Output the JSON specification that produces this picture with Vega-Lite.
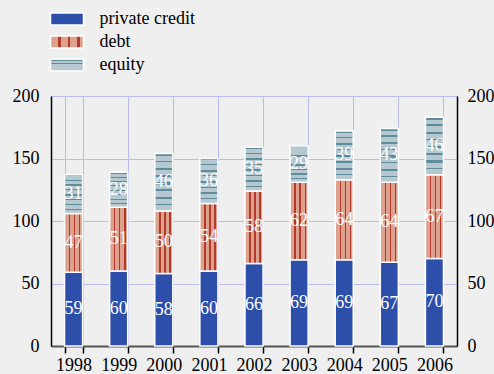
{
  "$schema": "https://vega.github.io/schema/vega-lite/v6.json",
  "width": 406,
  "height": 250,
  "autosize": "none",
  "padding": {"left": 51, "top": 96, "right": 37, "bottom": 28},
  "background": "#efefef",
  "config": {
    "font": "Liberation Serif",
    "view": {"stroke": null},
    "axis": {"labelFont": "Liberation Serif", "labelColor": "#000000", "labelFontSize": 18}
  },
  "data": {
    "values": [
      {"year": "1998", "series": "private credit", "rank": 1, "value": 59},
      {"year": "1998", "series": "debt", "rank": 2, "value": 47},
      {"year": "1998", "series": "equity", "rank": 3, "value": 31},
      {"year": "1999", "series": "private credit", "rank": 1, "value": 60},
      {"year": "1999", "series": "debt", "rank": 2, "value": 51},
      {"year": "1999", "series": "equity", "rank": 3, "value": 28},
      {"year": "2000", "series": "private credit", "rank": 1, "value": 58},
      {"year": "2000", "series": "debt", "rank": 2, "value": 50},
      {"year": "2000", "series": "equity", "rank": 3, "value": 46},
      {"year": "2001", "series": "private credit", "rank": 1, "value": 60},
      {"year": "2001", "series": "debt", "rank": 2, "value": 54},
      {"year": "2001", "series": "equity", "rank": 3, "value": 36},
      {"year": "2002", "series": "private credit", "rank": 1, "value": 66},
      {"year": "2002", "series": "debt", "rank": 2, "value": 58},
      {"year": "2002", "series": "equity", "rank": 3, "value": 35},
      {"year": "2003", "series": "private credit", "rank": 1, "value": 69},
      {"year": "2003", "series": "debt", "rank": 2, "value": 62},
      {"year": "2003", "series": "equity", "rank": 3, "value": 29},
      {"year": "2004", "series": "private credit", "rank": 1, "value": 69},
      {"year": "2004", "series": "debt", "rank": 2, "value": 64},
      {"year": "2004", "series": "equity", "rank": 3, "value": 39},
      {"year": "2005", "series": "private credit", "rank": 1, "value": 67},
      {"year": "2005", "series": "debt", "rank": 2, "value": 64},
      {"year": "2005", "series": "equity", "rank": 3, "value": 43},
      {"year": "2006", "series": "private credit", "rank": 1, "value": 70},
      {"year": "2006", "series": "debt", "rank": 2, "value": 67},
      {"year": "2006", "series": "equity", "rank": 3, "value": 46}
    ]
  },
  "transform": [
    {"stack": "value", "groupby": ["year"], "sort": [{"field": "rank", "order": "ascending"}], "as": ["y0", "y1"]}
  ],
  "layer": [
    {
      "mark": {"type": "bar", "stroke": "#ffffff", "strokeWidth": 1.5},
      "encoding": {
        "x": {
          "field": "year", "type": "ordinal",
          "scale": {"paddingInner": 0.6, "paddingOuter": 0.3},
          "axis": {
            "title": null, "labelAngle": 0, "labelPadding": 3,
            "domainColor": "#555555", "domainWidth": 2,
            "ticks": true, "tickBand": "extent", "tickColor": "#000000", "tickSize": 7, "tickWidth": 1.5,
            "grid": true, "gridColor": "#b9bcee", "gridWidth": 1
          }
        },
        "y": {
          "field": "y0", "type": "quantitative",
          "scale": {"domain": [0, 200]},
          "axis": {
            "title": null, "orient": "left", "values": [0, 50, 100, 150, 200],
            "ticks": false, "labelPadding": 12,
            "domainColor": "#000000", "domainWidth": 1.5,
            "grid": true, "gridColor": "#b9bcee", "gridWidth": 1
          }
        },
        "y2": {"field": "y1"},
        "fill": {
          "field": "series", "type": "nominal",
          "scale": {
            "domain": ["private credit", "debt", "equity"],
            "range": [
              "#2d4fa9",
              {"expr": "{gradient: 'linear', x1: 0, y1: 0, x2: 1, y2: 0, stops: [{offset: 0, color: '#dda18d'}, {offset: 0.24, color: '#dda18d'}, {offset: 0.24, color: '#b23a2c'}, {offset: 0.32, color: '#b23a2c'}, {offset: 0.32, color: '#dda18d'}, {offset: 0.52, color: '#dda18d'}, {offset: 0.52, color: '#b23a2c'}, {offset: 0.6, color: '#b23a2c'}, {offset: 0.6, color: '#dda18d'}, {offset: 0.8, color: '#dda18d'}, {offset: 0.8, color: '#b23a2c'}, {offset: 0.88, color: '#b23a2c'}, {offset: 0.88, color: '#dda18d'}, {offset: 1, color: '#dda18d'}]}"},
              {"expr": "{gradient: 'linear', x1: 0, y1: 0, x2: 0, y2: 1, stops: [{offset: 0, color: '#5e8c9b'}, {offset: 0.04, color: '#5e8c9b'}, {offset: 0.04, color: '#b5c8d0'}, {offset: 0.125, color: '#b5c8d0'}, {offset: 0.125, color: '#5e8c9b'}, {offset: 0.15, color: '#5e8c9b'}, {offset: 0.15, color: '#b5c8d0'}, {offset: 0.25, color: '#b5c8d0'}, {offset: 0.25, color: '#5e8c9b'}, {offset: 0.29, color: '#5e8c9b'}, {offset: 0.29, color: '#b5c8d0'}, {offset: 0.375, color: '#b5c8d0'}, {offset: 0.375, color: '#5e8c9b'}, {offset: 0.4, color: '#5e8c9b'}, {offset: 0.4, color: '#b5c8d0'}, {offset: 0.5, color: '#b5c8d0'}, {offset: 0.5, color: '#5e8c9b'}, {offset: 0.54, color: '#5e8c9b'}, {offset: 0.54, color: '#b5c8d0'}, {offset: 0.625, color: '#b5c8d0'}, {offset: 0.625, color: '#5e8c9b'}, {offset: 0.65, color: '#5e8c9b'}, {offset: 0.65, color: '#b5c8d0'}, {offset: 0.75, color: '#b5c8d0'}, {offset: 0.75, color: '#5e8c9b'}, {offset: 0.79, color: '#5e8c9b'}, {offset: 0.79, color: '#b5c8d0'}, {offset: 0.875, color: '#b5c8d0'}, {offset: 0.875, color: '#5e8c9b'}, {offset: 0.9, color: '#5e8c9b'}, {offset: 0.9, color: '#b5c8d0'}, {offset: 1, color: '#b5c8d0'}]}"}
            ]
          },
          "legend": {
            "orient": "none", "legendX": 7, "legendY": -86,
            "title": null, "direction": "vertical",
            "symbolType": "M-2,-0.73H2V0.73H-2Z", "symbolSize": 272,
            "symbolStrokeColor": "#ffffff", "symbolStrokeWidth": 1.5,
            "labelFont": "Liberation Serif", "labelFontSize": 18, "labelColor": "#000000",
            "labelOffset": 23.5, "rowPadding": 3
          }
        }
      }
    },
    {
      "transform": [{"fold": ["y0", "y1"], "as": ["k", "v"]}],
      "mark": {"type": "text", "fill": "#ffffff", "fontSize": 18, "baseline": "middle", "align": "center"},
      "encoding": {
        "x": {"field": "year", "type": "ordinal"},
        "y": {
          "aggregate": "mean", "field": "v", "type": "quantitative",
          "axis": {
            "title": null, "orient": "right", "values": [0, 50, 100, 150, 200],
            "ticks": false, "labelPadding": 10,
            "domainColor": "#000000", "domainWidth": 1.5, "grid": false
          }
        },
        "text": {"aggregate": "max", "field": "value", "type": "quantitative"},
        "detail": {"field": "series", "type": "nominal"}
      }
    }
  ],
  "resolve": {"axis": {"y": "independent"}}
}
